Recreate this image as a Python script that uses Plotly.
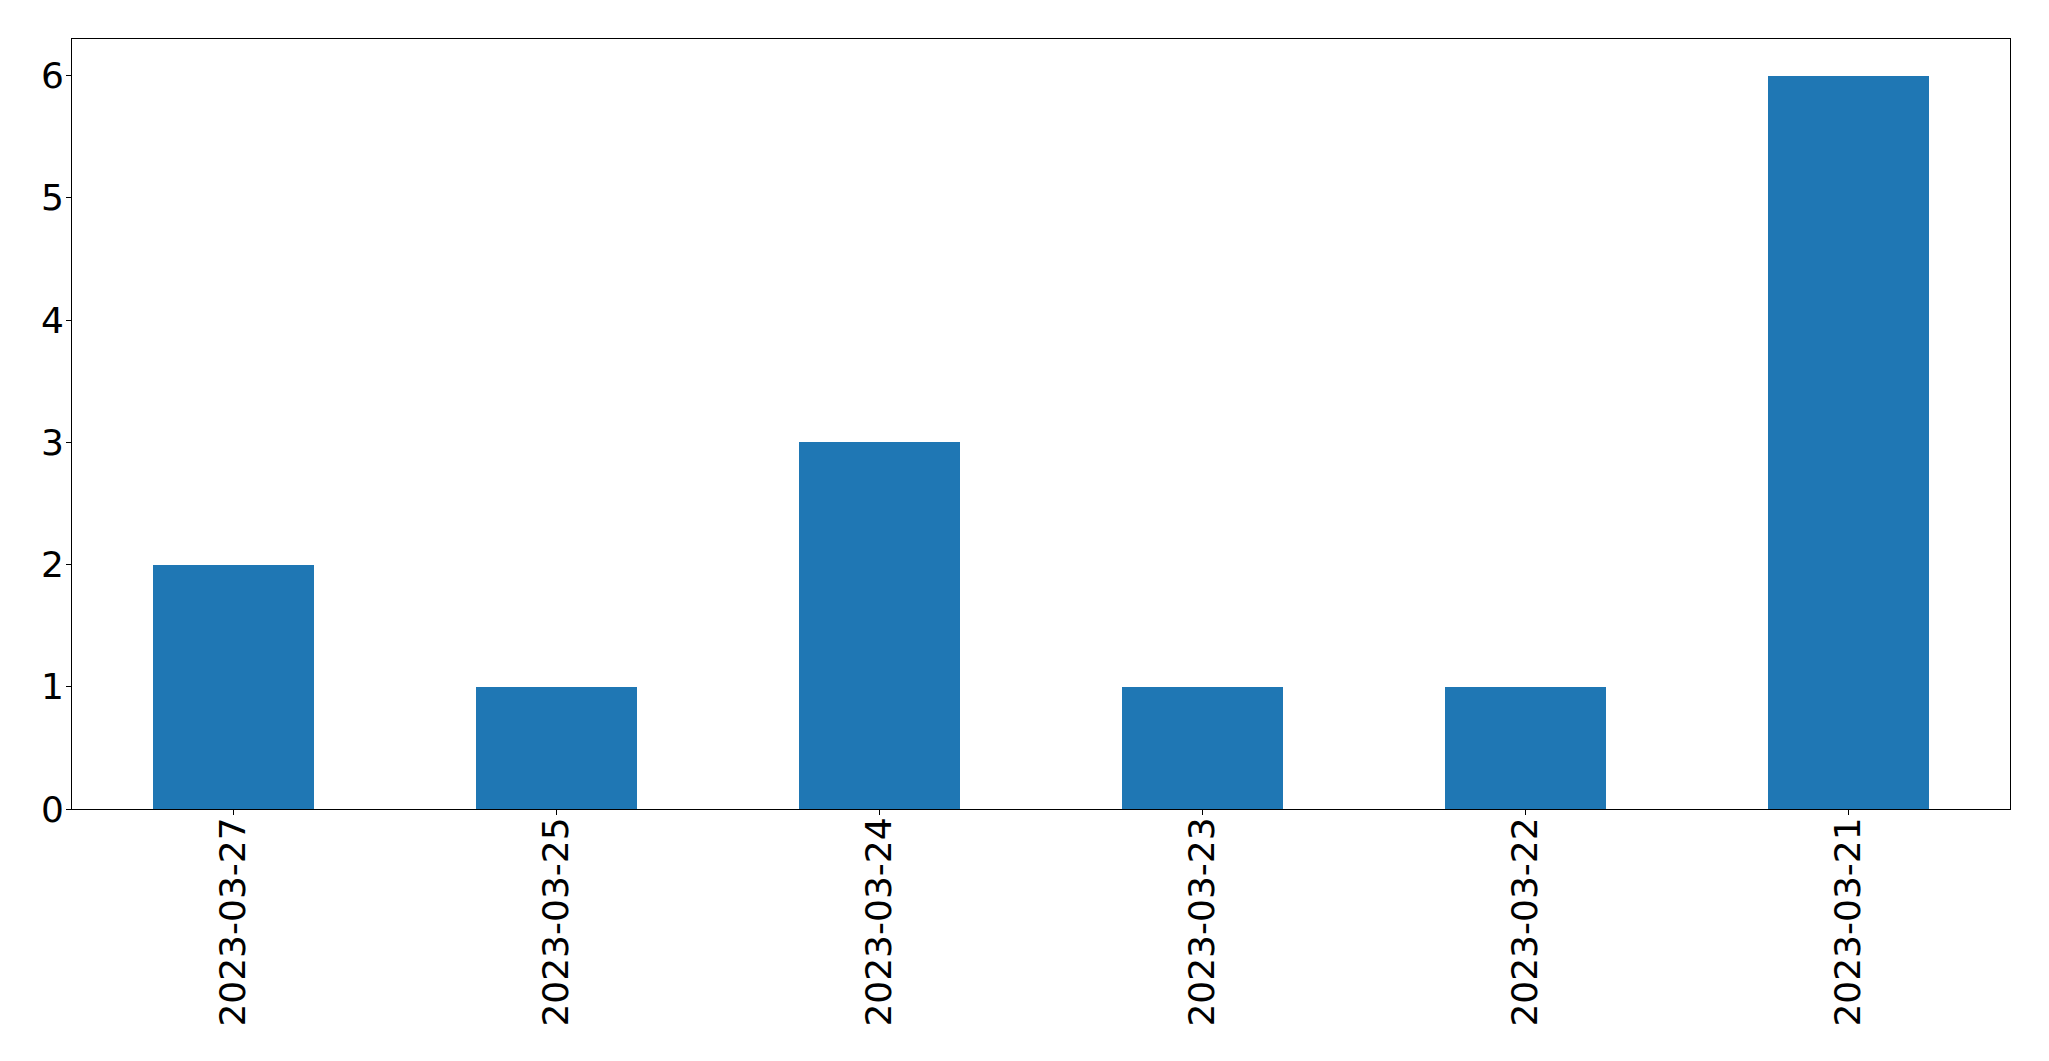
import plotly.graph_objects as go

dates = ["2023-03-27", "2023-03-25", "2023-03-24", "2023-03-23", "2023-03-22", "2023-03-21"]
counts = [2, 1, 3, 1, 1, 6]
y_ticks = [0, 1, 2, 3, 4, 5, 6]

fig = go.Figure(go.Bar(x=list(range(len(dates))), y=counts, width=0.5,
                       marker=dict(color="#1f77b4", line=dict(width=0))))

font = dict(family="DejaVu Sans", size=36, color="black")
fig.update_layout(
    width=2033, height=1045, autosize=False,
    margin=dict(l=64, r=31, t=31, b=244, pad=0),
    plot_bgcolor="white", paper_bgcolor="white",
    showlegend=False, font=font, bargap=0,
)
fig.update_xaxes(
    range=[-0.5, 5.5], tickmode="array", tickvals=list(range(len(dates))), ticktext=dates,
    tickangle=-90, showgrid=False, zeroline=False, showline=True, linecolor="black",
    linewidth=1, mirror=True, ticks="outside", ticklen=5, tickwidth=1, tickcolor="black",
    tickfont=font, ticklabelstandoff=-12, automargin=False,
)
fig.update_yaxes(
    range=[0, 6.3], tickmode="array", tickvals=y_ticks, ticktext=[str(v) for v in y_ticks],
    showgrid=False, zeroline=False, showline=True, linecolor="black",
    linewidth=1, mirror=True, ticks="outside", ticklen=5, tickwidth=1, tickcolor="black",
    tickfont=font, ticklabelstandoff=-5, automargin=False,
)
fig.write_html("out.html")
